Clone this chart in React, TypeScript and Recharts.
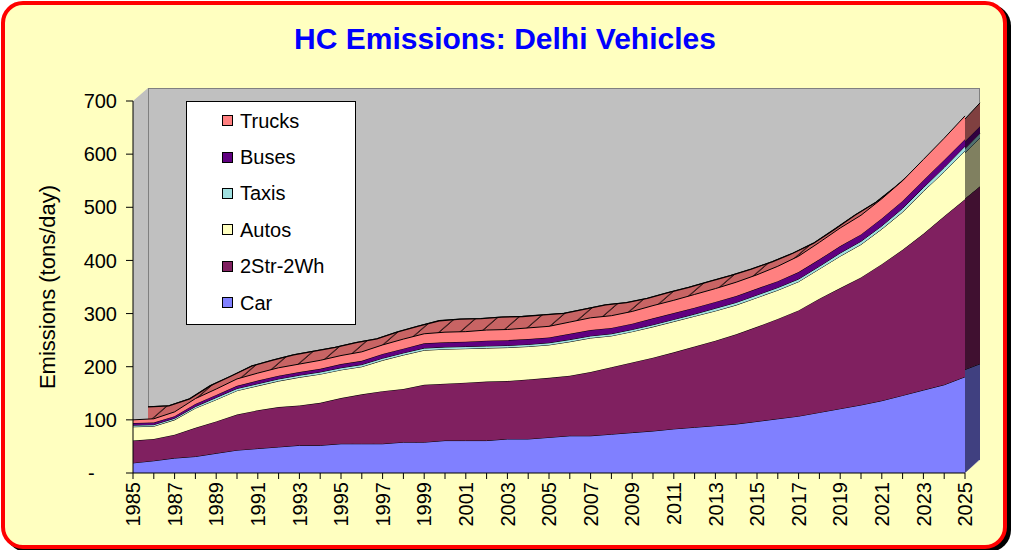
import React from 'react';
import { AreaChart, Area, XAxis, YAxis, Legend } from 'recharts';

// ---- Data (tons/day) ----
const YEARS = [
  1985, 1986, 1987, 1988, 1989, 1990, 1991, 1992, 1993, 1994,
  1995, 1996, 1997, 1998, 1999, 2000, 2001, 2002, 2003, 2004,
  2005, 2006, 2007, 2008, 2009, 2010, 2011, 2012, 2013, 2014,
  2015, 2016, 2017, 2018, 2019, 2020, 2021, 2022, 2023, 2024,
  2025,
];
const CAR = [
  19, 23, 28, 31, 37, 43, 46, 49, 52, 52,
  55, 55, 55, 58, 58, 61, 61, 61, 64, 64,
  67, 70, 70, 73, 76, 79, 83, 86, 89, 92,
  97, 102, 107, 114, 121, 128, 136, 146, 156, 166,
  181,
];
const TWO_WH = [
  42, 41, 44, 54, 60, 67, 72, 75, 75, 80,
  86, 93, 99, 100, 108, 107, 109, 111, 109, 112,
  112, 113, 120, 126, 132, 138, 144, 152, 160, 169,
  178, 188, 199, 214, 227, 240, 257, 274, 294, 317,
  334,
];
const AUTOS = [
  26, 24, 28, 37, 41, 45, 46, 49, 53, 54,
  53, 52, 58, 64, 65, 65, 64, 63, 63, 62,
  62, 64, 64, 59, 58, 58, 58, 57, 56, 55,
  55, 54, 54, 56, 60, 62, 66, 71, 80, 84,
  91,
];
const TAXIS = [
  3, 3, 3, 3, 4, 4, 4, 4, 4, 4,
  4, 4, 4, 4, 4, 4, 4, 4, 4, 4,
  4, 4, 4, 4, 4, 4, 4, 4, 5, 5,
  5, 5, 5, 5, 6, 6, 6, 7, 7, 8,
  9,
];
const BUSES = [
  4, 4, 4, 5, 5, 5, 6, 6, 6, 6,
  7, 7, 8, 8, 9, 9, 9, 10, 10, 10,
  10, 11, 11, 11, 11, 12, 12, 12, 12, 12,
  12, 12, 13, 13, 13, 13, 14, 14, 14, 14,
  13,
];
const TRUCKS = [
  6, 7, 8, 10, 11, 13, 14, 15, 15, 16,
  16, 17, 17, 18, 18, 19, 19, 20, 20, 21,
  21, 22, 23, 23, 23, 24, 24, 25, 25, 26,
  26, 28, 30, 32, 34, 36, 37, 38, 39, 41,
  44,
];
const Y_TICKS = [0, 100, 200, 300, 400, 500, 600, 700];
const TITLE = 'HC Emissions: Delhi Vehicles';
const Y_LABEL = 'Emissions (tons/day)';

const SERIES = [
  { key: 'car', name: 'Car', values: CAR, color: '#8080FF', dark: '#404080' },
  { key: 'twoWh', name: '2Str-2Wh', values: TWO_WH, color: '#802060', dark: '#401030' },
  { key: 'autos', name: 'Autos', values: AUTOS, color: '#FFFFC0', dark: '#808060' },
  { key: 'taxis', name: 'Taxis', values: TAXIS, color: '#A0E0E0', dark: '#507070' },
  { key: 'buses', name: 'Buses', values: BUSES, color: '#600080', dark: '#300040' },
  { key: 'trucks', name: 'Trucks', values: TRUCKS, color: '#FF8080', dark: '#804040' },
];

const data = YEARS.map((year, i) => {
  const row: any = { year };
  let total = 0;
  SERIES.forEach((s) => {
    row[s.key] = s.values[i];
    total += s.values[i];
  });
  row.total = total;
  return row;
});

// ---- Layout ----
const W = 1014;
const H = 550;
const PLOT_LEFT = 133;
const PLOT_RIGHT = 965;
const PLOT_TOP = 101;
const PLOT_BOTTOM = 473;
const DX = 15; // 3D depth offset
const DY = 13;
const FONT = '"Liberation Sans", Arial, Helvetica, sans-serif';

const backMargin = {
  top: PLOT_TOP,
  right: W - PLOT_RIGHT,
  bottom: H - PLOT_BOTTOM,
  left: PLOT_LEFT,
};

const XTick = (props: any) => {
  const { x, y, payload } = props;
  const v = payload.value;
  if ((v - YEARS[0]) % 2 !== 0) return <g />;
  return (
    <text
      x={x}
      y={y}
      transform={`rotate(-90, ${x}, ${y})`}
      textAnchor="end"
      dy="0.36em"
      fontSize={20}
      fill="#000"
    >
      {v}
    </text>
  );
};

const YLabel = (props: any) => {
  const vb = props.viewBox || { x: 0, y: PLOT_TOP, width: PLOT_LEFT, height: PLOT_BOTTOM - PLOT_TOP };
  const cx = 47;
  const cy = vb.y + vb.height / 2;
  return (
    <text
      x={cx}
      y={cy}
      transform={`rotate(-90, ${cx}, ${cy})`}
      textAnchor="middle"
      dy="0.36em"
      fontSize={22}
      fill="#000"
    >
      {Y_LABEL}
    </text>
  );
};

const renderLegend = () => (
  <div
    style={{
      width: 170,
      height: 224,
      background: '#FFFFFF',
      border: '1px solid #000',
      boxSizing: 'border-box',
      position: 'relative',
      fontFamily: FONT,
    }}
  >
    {[...SERIES].reverse().map((s, i) => (
      <div
        key={s.key}
        style={{
          position: 'absolute',
          left: 35,
          top: 0.5 + i * 36.4,
          height: 36.4,
          display: 'flex',
          alignItems: 'center',
        }}
      >
        <span
          style={{
            display: 'inline-block',
            width: 11,
            height: 11,
            boxSizing: 'border-box',
            background: s.color,
            border: '1px solid #000',
            marginRight: 7,
          }}
        />
        <span style={{ fontSize: 20, color: '#000', lineHeight: '22px' }}>{s.name}</span>
      </div>
    ))}
  </div>
);

export default function App() {
  return (
    <div
      style={{
        position: 'absolute',
        left: 0,
        top: 0,
        width: W,
        height: H,
        overflow: 'hidden',
        background: '#FFFFFF',
        fontFamily: FONT,
      }}
    >
      {/* frame */}
      <div
        style={{
          position: 'absolute',
          left: 1,
          top: 1,
          width: 1006,
          height: 548,
          boxSizing: 'border-box',
          border: '4px solid #FF0000',
          borderRadius: 22,
          background: '#FFFFC0',
          boxShadow: '4px 3px 0 0 #000',
        }}
      />
      {/* title */}
      <div
        style={{
          position: 'absolute',
          left: 0,
          top: 24,
          width: 1010,
          textAlign: 'center',
          fontSize: 30,
          lineHeight: '30px',
          fontWeight: 'bold',
          color: '#0000FF',
        }}
      >
        {TITLE}
      </div>
      {/* back & side walls */}
      <div
        style={{
          position: 'absolute',
          left: PLOT_LEFT,
          top: PLOT_TOP - DY,
          width: PLOT_RIGHT - PLOT_LEFT + DX,
          height: PLOT_BOTTOM - PLOT_TOP + DY,
          background: '#C0C0C0',
          clipPath: `polygon(0 ${DY}px, ${DX}px 0, 100% 0, 100% calc(100% - ${DY}px), calc(100% - ${DX}px) 100%, 0 100%)`,
        }}
      />
      <div
        style={{
          position: 'absolute',
          left: PLOT_LEFT + DX,
          top: PLOT_TOP - DY,
          width: PLOT_RIGHT - PLOT_LEFT,
          height: PLOT_BOTTOM - PLOT_TOP,
          boxSizing: 'border-box',
          borderTop: '1px solid #808080',
          borderLeft: '1px solid #808080',
          borderRight: '1px solid #808080',
        }}
      />
      {/* car side face corner below the back floor line */}
      <div
        style={{
          position: 'absolute',
          left: PLOT_RIGHT,
          top: PLOT_BOTTOM - DY - 1,
          width: DX,
          height: DY + 1,
          background: '#404080',
          clipPath: 'polygon(0 0, 100% 0, 0 100%)',
        }}
      />
      {/* back copy A: dark side faces */}
      <div style={{ position: 'absolute', left: DX, top: -DY }}>
        <AreaChart width={W} height={H} data={data} margin={backMargin}>
          <XAxis hide type="number" dataKey="year" domain={[YEARS[0], YEARS[YEARS.length - 1]]} />
          <YAxis hide type="number" domain={[0, 700]} />
          {SERIES.map((s) => (
            <Area
              key={s.key}
              type="linear"
              dataKey={s.key}
              stackId="a"
              fill={s.dark}
              fillOpacity={1}
              stroke="#000"
              strokeWidth={1}
              isAnimationActive={false}
            />
          ))}
        </AreaChart>
      </div>
      {/* back copy B: hatched top face */}
      <div
        style={{
          position: 'absolute',
          left: DX,
          top: -DY,
          width: PLOT_RIGHT - DX,
          height: H,
          overflow: 'hidden',
        }}
      >
        <AreaChart width={W} height={H} data={data} margin={backMargin}>
          <defs>
            <pattern
              id="hatchTop"
              patternUnits="userSpaceOnUse"
              width={20.8}
              height={40}
              patternTransform="skewX(-49)"
            >
              <rect x={0} y={0} width={20.8} height={40} fill="#C86464" />
              <line x1={10} y1={0} x2={10} y2={40} stroke="#000" strokeWidth={1.3} />
            </pattern>
          </defs>
          <XAxis hide type="number" dataKey="year" domain={[YEARS[0], YEARS[YEARS.length - 1]]} />
          <YAxis hide type="number" domain={[0, 700]} />
          <Area
            type="linear"
            dataKey="total"
            fill="url(#hatchTop)"
            fillOpacity={1}
            stroke="#000"
            strokeWidth={1.3}
            isAnimationActive={false}
          />
        </AreaChart>
      </div>
      {/* front chart */}
      <div style={{ position: 'absolute', left: 0, top: 0 }}>
        <AreaChart
          width={W}
          height={H}
          data={data}
          margin={{ top: PLOT_TOP, right: W - PLOT_RIGHT, bottom: 0, left: 0 }}
        >
          <XAxis
            type="number"
            dataKey="year"
            domain={[YEARS[0], YEARS[YEARS.length - 1]]}
            ticks={YEARS}
            interval={0}
            height={H - PLOT_BOTTOM}
            tick={<XTick />}
            tickSize={6}
            tickMargin={3}
            axisLine={{ stroke: '#000', strokeWidth: 1 }}
            tickLine={{ stroke: '#000', strokeWidth: 1 }}
          />
          <YAxis
            type="number"
            domain={[0, 700]}
            ticks={Y_TICKS}
            interval={0}
            width={PLOT_LEFT}
            tickSize={7}
            tickMargin={9}
            tick={{ fontSize: 20, fill: '#000' }}
            tickFormatter={(v: number) => (v === 0 ? '-\u00a0\u00a0\u00a0\u00a0' : String(v))}
            axisLine={{ stroke: '#000', strokeWidth: 1 }}
            tickLine={{ stroke: '#000', strokeWidth: 1 }}
            label={<YLabel />}
          />
          {SERIES.map((s) => (
            <Area
              key={s.key}
              type="linear"
              dataKey={s.key}
              name={s.name}
              stackId="a"
              fill={s.color}
              fillOpacity={1}
              stroke="#000"
              strokeWidth={1}
              isAnimationActive={false}
            />
          ))}
          <Legend
            layout="vertical"
            align="center"
            verticalAlign="middle"
            content={renderLegend}
            wrapperStyle={{ left: 186, top: 101, width: 170, height: 224 }}
          />
        </AreaChart>
      </div>
    </div>
  );
}
